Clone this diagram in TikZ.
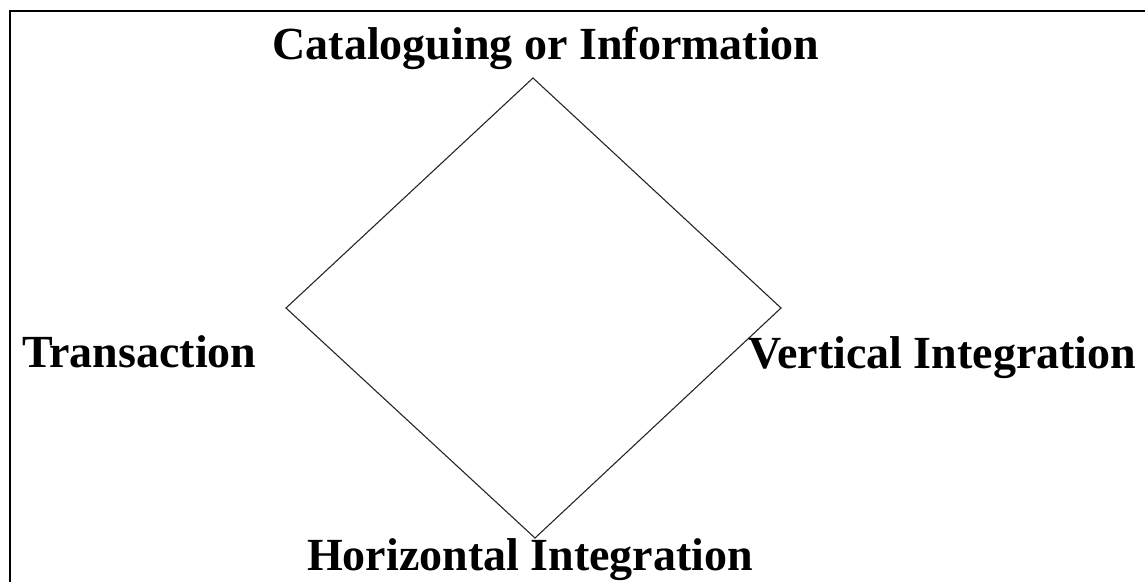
\documentclass[tikz,border=0pt]{standalone}
\usepackage{fontspec}
\setmainfont{Liberation Serif}
\begin{document}
\begin{tikzpicture}[x=1pt,y=-1pt,
  lbl/.style={inner sep=0pt,font=\fontsize{46}{50}\selectfont\bfseries},
  edge/.style={draw=black!85,line width=1.1pt},
  frame/.style={draw=black,line width=2.2pt}]
\useasboundingbox (0,0) rectangle (1145,582);
\coordinate (fl) at (10,582);
\coordinate (fc) at (10,11);
\coordinate (fr) at (1145,11);
\draw[frame] (fl) -- (fc) -- (fr);
\coordinate (top) at (533,78);
\coordinate (left) at (286,308);
\coordinate (right) at (781,308);
\coordinate (bottom) at (535,538);
\draw[edge,line join=miter] (top) -- (right) -- (bottom) -- (left) -- cycle;
\node[lbl,anchor=base] (cat) at (546,59) {Cataloguing or Information};
\node[lbl,anchor=base west] (tra) at (22,367) {Transaction};
\node[lbl,anchor=base west] (ver) at (748,368) {Vertical Integration};
\node[lbl,anchor=base] (hor) at (530,570) {Horizontal Integration};
\end{tikzpicture}
\end{document}
